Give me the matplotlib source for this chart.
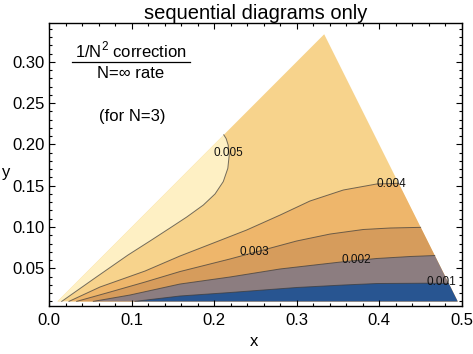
"""Contour-band plot of the 1/N^2 correction ratio over the (x, y) triangle, sequential diagrams only."""
import numpy as np
import matplotlib
matplotlib.use("Agg")
import matplotlib.pyplot as plt
from matplotlib.ticker import MultipleLocator, FormatStrFormatter

FONT = ["Liberation Sans", "DejaVu Sans"]
plt.rcParams["font.family"] = FONT
plt.rcParams["mathtext.fontset"] = "custom"
plt.rcParams["mathtext.rm"] = "Liberation Sans"

# domain: y <= x <= 1 - x - y, cut at y = 0.01
Y_MIN = 0.01
TRI_X = [Y_MIN, 1 / 3, (1 - Y_MIN) / 2]
TRI_Y = [Y_MIN, 1 / 3, Y_MIN]

# contour lines (left -> right)
LEVELS = [0.001, 0.002, 0.003, 0.004, 0.005]
C1_X = [0.1040, 0.1585, 0.2191, 0.3000, 0.3565, 0.3970, 0.4576, 0.4842]
C1_Y = [0.0100, 0.0165, 0.0207, 0.0268, 0.0298, 0.0316, 0.0320, 0.0317]
C2_X = [0.0535, 0.0979, 0.1585, 0.2191, 0.2797, 0.3161, 0.3565, 0.3970, 0.4373, 0.4673]
C2_Y = [0.0100, 0.0177, 0.0310, 0.0395, 0.0492, 0.0534, 0.0580, 0.0619, 0.0643, 0.0655]
C3_X = [0.0333, 0.0737, 0.1161, 0.1585, 0.2191, 0.2595, 0.3000, 0.3404, 0.3807, 0.4130, 0.4502]
C3_Y = [0.0100, 0.0213, 0.0334, 0.0461, 0.0613, 0.0722, 0.0831, 0.0915, 0.0970, 0.0988, 0.0996]
C4_X = [0.0240, 0.0616, 0.1161, 0.1585, 0.1989, 0.2394, 0.2799, 0.3161, 0.3565, 0.3970, 0.4236]
C4_Y = [0.0100, 0.0274, 0.0467, 0.0649, 0.0806, 0.0964, 0.1145, 0.1315, 0.1448, 0.1521, 0.1529]
C5_X = [0.0152, 0.0555, 0.0955, 0.1222, 0.1464, 0.1667, 0.1868, 0.2010, 0.2110, 0.2165,
        0.2182, 0.2170, 0.2145, 0.2116]
C5_Y = [0.0100, 0.0383, 0.0661, 0.0831, 0.0988, 0.1121, 0.1266, 0.1400, 0.1550, 0.1710,
        0.1870, 0.1990, 0.2070, 0.2116]

LINES_X = [C1_X, C2_X, C3_X, C4_X, C5_X]
LINES_Y = [C1_Y, C2_Y, C3_Y, C4_Y, C5_Y]

# band colours, lowest band first
BAND_COLORS = ["#285591", "#8C7D80", "#D69C5C", "#EEB66B", "#F7D38C", "#FEF0C4"]

LABEL_POS = [(0.4758, 0.0330), (0.3727, 0.0600), (0.2482, 0.0701), (0.4152, 0.1521), (0.2168, 0.1896)]


def main():
    fig = plt.figure(figsize=(4.73, 3.54), dpi=100)
    ax = fig.add_axes([0.1040, 0.1356, 0.8721, 0.7986])

    # whole triangle in the 0.004-0.005 band colour
    ax.fill(TRI_X, TRI_Y, color=BAND_COLORS[4], lw=0)
    # above 0.005: line closed back along the hypotenuse
    ax.fill(np.r_[C5_X, TRI_X[0]], np.r_[C5_Y, TRI_Y[0]], color=BAND_COLORS[5], lw=0)
    # below each lower level: line closed via the right corner
    for k in [3, 2, 1, 0]:
        xs = np.r_[LINES_X[k], TRI_X[2]]
        ys = np.r_[LINES_Y[k], TRI_Y[2]]
        ax.fill(xs, ys, color=BAND_COLORS[k], lw=0)

    for xs, ys in zip(LINES_X, LINES_Y):
        ax.plot(xs, ys, color="#3a3a3a", lw=0.7, alpha=0.7, solid_joinstyle="round")

    for lev, (lx, ly) in zip(LEVELS, LABEL_POS):
        ax.text(lx, ly, f"{lev:.3f}", fontsize=8.5, ha="center", va="center", color="#111111")

    # annotation
    ax.text(0.198, 0.881, r"1/N$^{\mathrm{2}}$ correction", transform=ax.transAxes, fontsize=12,
            ha="center", va="baseline", family=FONT)
    ax.plot([0.056, 0.341], [0.862, 0.862], transform=ax.transAxes, color="black", lw=0.9)
    ax.text(0.198, 0.822, "N=\u221e rate", transform=ax.transAxes, fontsize=12,
            ha="center", va="center", family=FONT)
    ax.text(0.202, 0.670, "(for N=3)", transform=ax.transAxes, fontsize=12,
            ha="center", va="center", family=FONT)

    ax.set_xlim(0, 0.5)
    ax.set_ylim(0.0044, 0.3466)
    ax.xaxis.set_major_locator(MultipleLocator(0.1))
    ax.xaxis.set_minor_locator(MultipleLocator(0.02))
    ax.yaxis.set_major_locator(MultipleLocator(0.05))
    ax.yaxis.set_minor_locator(MultipleLocator(0.01))
    ax.xaxis.set_major_formatter(FormatStrFormatter("%.1f"))
    ax.yaxis.set_major_formatter(FormatStrFormatter("%.2f"))
    ax.tick_params(which="both", direction="in", top=True, right=True, labelsize=12, width=0.8)
    ax.tick_params(which="major", length=4.5)
    ax.tick_params(which="minor", length=2.2)
    ax.tick_params(axis="x", pad=5)
    ax.tick_params(axis="y", pad=3)
    for sp in ax.spines.values():
        sp.set_linewidth(1.0)

    ax.set_title("sequential diagrams only", fontsize=14.5, pad=2)
    fig.text(6 / 473, 1 - 172 / 354, "y", fontsize=12, ha="center", va="center")
    fig.text(254 / 473, 1 - 342 / 354, "x", fontsize=12, ha="center", va="center")

    fig.savefig("out.png", dpi=100)
    plt.close(fig)


if __name__ == "__main__":
    main()
